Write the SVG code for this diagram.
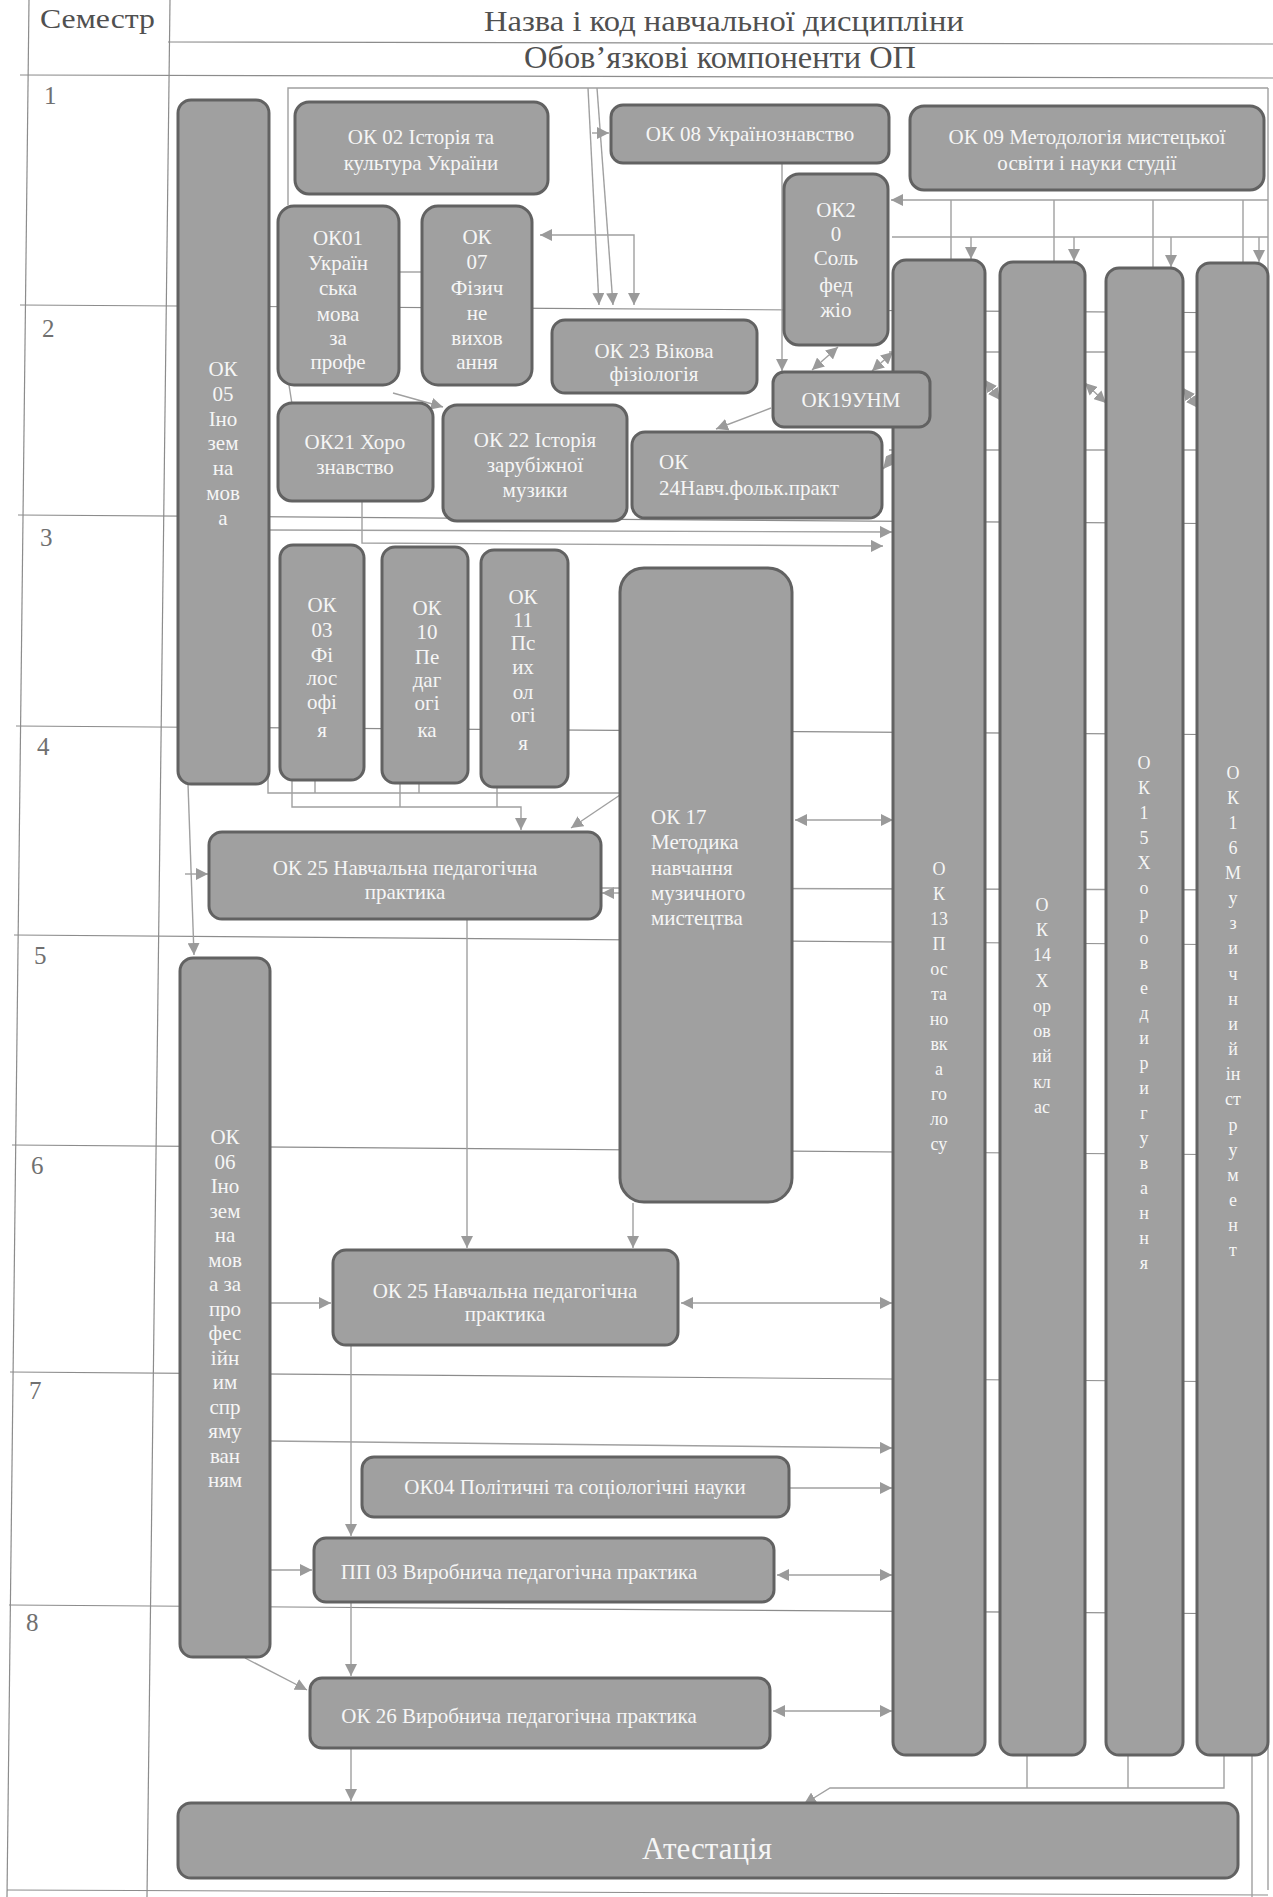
<svg xmlns="http://www.w3.org/2000/svg" width="1273" height="1897" viewBox="0 0 1273 1897">
<style>
.grid{stroke:#8c8c8c;stroke-width:1.2;fill:none}
.c{stroke:#a0a0a0;stroke-width:1.4;fill:none}
.n rect{fill:#a0a0a0;stroke:#626262;stroke-width:3}
.t{font-family:"Liberation Serif","DejaVu Serif",serif;font-size:21px;fill:#f6f6f6;text-anchor:middle}
.tl{font-family:"Liberation Serif","DejaVu Serif",serif;font-size:21px;fill:#f6f6f6}
.tb{font-family:"Liberation Serif","DejaVu Serif",serif;font-size:18px;fill:#f6f6f6;text-anchor:middle}
.h{font-family:"Liberation Serif","DejaVu Serif",serif;fill:#505050}
.s{font-family:"Liberation Serif","DejaVu Serif",serif;font-size:25px;fill:#707070}
</style>
<defs>
<marker id="ah" viewBox="0 0 10 10" refX="10" refY="5" markerWidth="12" markerHeight="12" markerUnits="userSpaceOnUse" orient="auto-start-reverse"><path d="M0,0 L10,5 L0,10 z" fill="#9a9a9a"/></marker>
</defs>
<rect width="1273" height="1897" fill="#ffffff"/>
<g id="table">
<line class="grid" x1="29" y1="0" x2="7" y2="1897"/>
<line class="grid" x1="170" y1="0" x2="147" y2="1897"/>
<line class="grid" x1="168" y1="42" x2="1273" y2="44"/>
<line class="grid" x1="20" y1="75" x2="1273" y2="78"/>
<line class="grid" x1="20" y1="305" x2="1268" y2="313"/>
<line class="grid" x1="18" y1="515" x2="1268" y2="524"/>
<line class="grid" x1="16" y1="726" x2="1268" y2="735"/>
<line class="grid" x1="14" y1="935" x2="1268" y2="945"/>
<line class="grid" x1="12" y1="1145" x2="1268" y2="1155"/>
<line class="grid" x1="10" y1="1372" x2="1268" y2="1382"/>
<line class="grid" x1="9" y1="1605" x2="1268" y2="1614"/>
<line class="grid" x1="7" y1="1890" x2="1268" y2="1895"/>
<text class="h" x="40" y="28" font-size="27" textLength="115" lengthAdjust="spacingAndGlyphs">Семестр</text>
<text class="h" x="484" y="31" font-size="29" textLength="480" lengthAdjust="spacingAndGlyphs">Назва і код навчальної дисципліни</text>
<text class="h" x="524" y="68" font-size="32" textLength="392" lengthAdjust="spacingAndGlyphs">Обов’язкові компоненти ОП</text>
<text class="s" x="44" y="104">1</text>
<text class="s" x="42" y="337">2</text>
<text class="s" x="40" y="546">3</text>
<text class="s" x="37" y="755">4</text>
<text class="s" x="34" y="964">5</text>
<text class="s" x="31" y="1174">6</text>
<text class="s" x="29" y="1399">7</text>
<text class="s" x="26" y="1631">8</text>
</g>
<g id="connectors">
<polyline class="c" points="288,205 288,88 1268,88"/>
<line class="c" x1="1268" y1="88" x2="1268" y2="1890"/>
<line class="c" x1="588" y1="88" x2="599" y2="305" marker-end="url(#ah)"/>
<line class="c" x1="597" y1="88" x2="613" y2="305" marker-end="url(#ah)"/>
<polyline class="c" points="540,235 634,235 634,305" marker-start="url(#ah)" marker-end="url(#ah)"/>
<line class="c" x1="592" y1="133" x2="609" y2="133" marker-end="url(#ah)"/>
<line class="c" x1="1268" y1="200" x2="891" y2="200" marker-end="url(#ah)"/>
<line class="c" x1="892" y1="237" x2="1268" y2="237"/>
<line class="c" x1="971" y1="237" x2="971" y2="259" marker-end="url(#ah)"/>
<line class="c" x1="1074" y1="237" x2="1074" y2="261" marker-end="url(#ah)"/>
<line class="c" x1="1171" y1="237" x2="1171" y2="267" marker-end="url(#ah)"/>
<line class="c" x1="1259" y1="237" x2="1259" y2="262" marker-end="url(#ah)"/>
<line class="c" x1="951" y1="200" x2="951" y2="262"/>
<line class="c" x1="1054" y1="200" x2="1054" y2="262"/>
<line class="c" x1="1153" y1="200" x2="1153" y2="268"/>
<line class="c" x1="1243" y1="200" x2="1243" y2="263"/>
<line class="c" x1="782" y1="163" x2="782" y2="371" marker-end="url(#ah)"/>
<line class="c" x1="812" y1="370" x2="838" y2="347" marker-start="url(#ah)" marker-end="url(#ah)"/>
<line class="c" x1="872" y1="371" x2="893" y2="352" marker-start="url(#ah)" marker-end="url(#ah)"/>
<line class="c" x1="771" y1="408" x2="716" y2="429" marker-end="url(#ah)"/>
<line class="c" x1="883" y1="469" x2="898" y2="451" marker-start="url(#ah)" marker-end="url(#ah)"/>
<line class="c" x1="985" y1="380" x2="1000" y2="400" marker-start="url(#ah)" marker-end="url(#ah)"/>
<line class="c" x1="1085" y1="383" x2="1106" y2="403" marker-start="url(#ah)" marker-end="url(#ah)"/>
<line class="c" x1="1183" y1="388" x2="1198" y2="408" marker-start="url(#ah)" marker-end="url(#ah)"/>
<line class="c" x1="889" y1="352" x2="1268" y2="352"/>
<line class="c" x1="889" y1="450" x2="1268" y2="450"/>
<line class="c" x1="399" y1="272" x2="423" y2="272"/>
<line class="c" x1="393" y1="393" x2="443" y2="407" marker-end="url(#ah)"/>
<line class="c" x1="289" y1="385" x2="292" y2="404"/>
<line class="c" x1="269" y1="530" x2="892" y2="532" marker-end="url(#ah)"/>
<polyline class="c" points="362,501 362,543 883,546" marker-end="url(#ah)"/>
<polyline class="c" points="268,530 268,793 620,793"/>
<polyline class="c" points="292,780 292,807 521,807 521,830" marker-end="url(#ah)"/>
<line class="c" x1="315" y1="780" x2="315" y2="793"/>
<line class="c" x1="400" y1="783" x2="400" y2="807"/>
<line class="c" x1="419" y1="783" x2="419" y2="793"/>
<line class="c" x1="497" y1="787" x2="497" y2="807"/>
<line class="c" x1="620" y1="795" x2="571" y2="828" marker-end="url(#ah)"/>
<line class="c" x1="620" y1="893" x2="602" y2="893" marker-end="url(#ah)"/>
<line class="c" x1="188" y1="784" x2="194" y2="955" marker-end="url(#ah)"/>
<line class="c" x1="185" y1="874" x2="208" y2="874" marker-end="url(#ah)"/>
<line class="c" x1="795" y1="820" x2="893" y2="820" marker-start="url(#ah)" marker-end="url(#ah)"/>
<line class="c" x1="601" y1="888" x2="1268" y2="890"/>
<line class="c" x1="467" y1="919" x2="467" y2="1248" marker-end="url(#ah)"/>
<line class="c" x1="633" y1="1203" x2="633" y2="1248" marker-end="url(#ah)"/>
<line class="c" x1="270" y1="1303" x2="331" y2="1303" marker-end="url(#ah)"/>
<line class="c" x1="681" y1="1303" x2="892" y2="1303" marker-start="url(#ah)" marker-end="url(#ah)"/>
<line class="c" x1="351" y1="1345" x2="351" y2="1536" marker-end="url(#ah)"/>
<line class="c" x1="351" y1="1602" x2="351" y2="1676" marker-end="url(#ah)"/>
<line class="c" x1="351" y1="1748" x2="351" y2="1801" marker-end="url(#ah)"/>
<line class="c" x1="245" y1="1658" x2="307" y2="1690" marker-end="url(#ah)"/>
<line class="c" x1="270" y1="1570" x2="312" y2="1570" marker-end="url(#ah)"/>
<line class="c" x1="270" y1="1441" x2="892" y2="1448" marker-end="url(#ah)"/>
<line class="c" x1="789" y1="1488" x2="892" y2="1488" marker-end="url(#ah)"/>
<line class="c" x1="777" y1="1575" x2="892" y2="1575" marker-start="url(#ah)" marker-end="url(#ah)"/>
<line class="c" x1="773" y1="1711" x2="892" y2="1711" marker-start="url(#ah)" marker-end="url(#ah)"/>
<line class="c" x1="1027" y1="1755" x2="1027" y2="1788"/>
<line class="c" x1="1128" y1="1755" x2="1128" y2="1788"/>
<polyline class="c" points="1224,1755 1224,1788 830,1788 804,1804" marker-end="url(#ah)"/>
<line class="c" x1="1252" y1="1755" x2="1252" y2="1897"/>
</g>
<g id="ok05" class="n"><rect x="178" y="100" width="91" height="684" rx="13"/>
<text class="t"><tspan x="223" y="376">ОК</tspan><tspan x="223" y="401">05</tspan><tspan x="223" y="426">Іно</tspan><tspan x="223" y="450">зем</tspan><tspan x="223" y="475">на</tspan><tspan x="223" y="500">мов</tspan><tspan x="223" y="525">а</tspan></text></g>
<g id="ok02" class="n"><rect x="295" y="102" width="253" height="92" rx="14"/>
<text class="t"><tspan x="421" y="144">ОК 02 Історія та</tspan><tspan x="421" y="170">культура України</tspan></text></g>
<g id="ok08" class="n"><rect x="611" y="105" width="278" height="58" rx="12"/>
<text class="t" x="750" y="141">ОК 08 Українознавство</text></g>
<g id="ok09" class="n"><rect x="910" y="106" width="354" height="84" rx="14"/>
<text class="t"><tspan x="1087" y="144">ОК 09 Методологія мистецької</tspan><tspan x="1087" y="170">освіти і науки студії</tspan></text></g>
<g id="ok01" class="n"><rect x="278" y="206" width="121" height="179" rx="16"/>
<text class="t"><tspan x="338" y="245">ОК01</tspan><tspan x="338" y="270">Україн</tspan><tspan x="338" y="295">ська</tspan><tspan x="338" y="321">мова</tspan><tspan x="338" y="345">за</tspan><tspan x="338" y="369">профе</tspan></text></g>
<g id="ok07" class="n"><rect x="422" y="206" width="110" height="179" rx="16"/>
<text class="t"><tspan x="477" y="244">ОК</tspan><tspan x="477" y="269">07</tspan><tspan x="477" y="295">Фізич</tspan><tspan x="477" y="320">не</tspan><tspan x="477" y="345">вихов</tspan><tspan x="477" y="369">ання</tspan></text></g>
<g id="ok23" class="n"><rect x="552" y="320" width="205" height="73" rx="13"/>
<text class="t"><tspan x="654" y="358">ОК 23 Вікова</tspan><tspan x="654" y="381">фізіологія</tspan></text></g>
<g id="ok20" class="n"><rect x="784" y="174" width="104" height="171" rx="15"/>
<text class="t"><tspan x="836" y="217">ОК2</tspan><tspan x="836" y="241">0</tspan><tspan x="836" y="265">Соль</tspan><tspan x="836" y="292">фед</tspan><tspan x="836" y="317">жіо</tspan></text></g>
<g id="ok21" class="n"><rect x="278" y="403" width="155" height="98" rx="14"/>
<text class="t"><tspan x="355" y="449">ОК21 Хоро</tspan><tspan x="355" y="474">знавство</tspan></text></g>
<g id="ok22" class="n"><rect x="443" y="405" width="184" height="116" rx="14"/>
<text class="t"><tspan x="535" y="447">ОК 22 Історія</tspan><tspan x="535" y="472">зарубіжної</tspan><tspan x="535" y="497">музики</tspan></text></g>
<g id="ok24" class="n"><rect x="632" y="432" width="250" height="86" rx="13"/>
<text class="tl"><tspan x="659" y="469">ОК</tspan><tspan x="659" y="495">24Навч.фольк.практ</tspan></text></g>
<g id="ok03" class="n"><rect x="280" y="545" width="84" height="235" rx="13"/>
<text class="t"><tspan x="322" y="612">ОК</tspan><tspan x="322" y="637">03</tspan><tspan x="322" y="662">Фі</tspan><tspan x="322" y="685">лос</tspan><tspan x="322" y="709">офі</tspan><tspan x="322" y="737">я</tspan></text></g>
<g id="ok10" class="n"><rect x="382" y="547" width="86" height="236" rx="13"/>
<text class="t"><tspan x="427" y="615">ОК</tspan><tspan x="427" y="639">10</tspan><tspan x="427" y="664">Пе</tspan><tspan x="427" y="687">даг</tspan><tspan x="427" y="710">огі</tspan><tspan x="427" y="737">ка</tspan></text></g>
<g id="ok11" class="n"><rect x="481" y="550" width="87" height="237" rx="13"/>
<text class="t"><tspan x="523" y="604">ОК</tspan><tspan x="523" y="627">11</tspan><tspan x="523" y="650">Пс</tspan><tspan x="523" y="674">их</tspan><tspan x="523" y="699">ол</tspan><tspan x="523" y="722">огі</tspan><tspan x="523" y="750">я</tspan></text></g>
<g id="ok17" class="n"><rect x="620" y="568" width="172" height="634" rx="24"/>
<text class="tl"><tspan x="651" y="824">ОК 17</tspan><tspan x="651" y="849">Методика</tspan><tspan x="651" y="875">навчання</tspan><tspan x="651" y="900">музичного</tspan><tspan x="651" y="925">мистецтва</tspan></text></g>
<g id="ok25a" class="n"><rect x="209" y="832" width="392" height="87" rx="13"/>
<text class="t"><tspan x="405" y="875">ОК 25 Навчальна педагогічна</tspan><tspan x="405" y="899">практика</tspan></text></g>
<g id="ok06" class="n"><rect x="180" y="958" width="90" height="699" rx="13"/>
<text class="t"><tspan x="225" y="1144">ОК</tspan><tspan x="225" y="1169">06</tspan><tspan x="225" y="1193">Іно</tspan><tspan x="225" y="1218">зем</tspan><tspan x="225" y="1242">на</tspan><tspan x="225" y="1267">мов</tspan><tspan x="225" y="1291">а за</tspan><tspan x="225" y="1316">про</tspan><tspan x="225" y="1340">фес</tspan><tspan x="225" y="1365">ійн</tspan><tspan x="225" y="1389">им</tspan><tspan x="225" y="1414">спр</tspan><tspan x="225" y="1438">яму</tspan><tspan x="225" y="1463">ван</tspan><tspan x="225" y="1487">ням</tspan></text></g>
<g id="ok25b" class="n"><rect x="333" y="1250" width="345" height="95" rx="13"/>
<text class="t"><tspan x="505" y="1298">ОК 25 Навчальна педагогічна</tspan><tspan x="505" y="1321">практика</tspan></text></g>
<g id="ok04" class="n"><rect x="362" y="1457" width="427" height="60" rx="12"/>
<text class="t" x="575" y="1494">ОК04 Політичні та соціологічні науки</text></g>
<g id="pp03" class="n"><rect x="314" y="1538" width="460" height="64" rx="12"/>
<text class="t" x="519" y="1579">ПП 03 Виробнича педагогічна практика</text></g>
<g id="ok26" class="n"><rect x="310" y="1678" width="460" height="70" rx="12"/>
<text class="t" x="519" y="1723">ОК 26 Виробнича педагогічна практика</text></g>
<g id="ok13" class="n"><rect x="893" y="260" width="92" height="1495" rx="13"/>
<text class="tb"><tspan x="939" y="875">О</tspan><tspan x="939" y="900">К</tspan><tspan x="939" y="925">13</tspan><tspan x="939" y="950">П</tspan><tspan x="939" y="975">ос</tspan><tspan x="939" y="1000">та</tspan><tspan x="939" y="1025">но</tspan><tspan x="939" y="1050">вк</tspan><tspan x="939" y="1075">а</tspan><tspan x="939" y="1100">го</tspan><tspan x="939" y="1125">ло</tspan><tspan x="939" y="1150">су</tspan></text></g>
<g id="ok14" class="n"><rect x="1000" y="262" width="85" height="1493" rx="13"/>
<text class="tb"><tspan x="1042" y="911">О</tspan><tspan x="1042" y="936">К</tspan><tspan x="1042" y="961">14</tspan><tspan x="1042" y="987">Х</tspan><tspan x="1042" y="1012">ор</tspan><tspan x="1042" y="1037">ов</tspan><tspan x="1042" y="1062">ий</tspan><tspan x="1042" y="1088">кл</tspan><tspan x="1042" y="1113">ас</tspan></text></g>
<g id="ok15" class="n"><rect x="1106" y="268" width="77" height="1487" rx="13"/>
<text class="tb"><tspan x="1144" y="769">О</tspan><tspan x="1144" y="794">К</tspan><tspan x="1144" y="819">1</tspan><tspan x="1144" y="844">5</tspan><tspan x="1144" y="869">Х</tspan><tspan x="1144" y="894">о</tspan><tspan x="1144" y="919">р</tspan><tspan x="1144" y="944">о</tspan><tspan x="1144" y="969">в</tspan><tspan x="1144" y="994">е</tspan><tspan x="1144" y="1019">д</tspan><tspan x="1144" y="1044">и</tspan><tspan x="1144" y="1069">р</tspan><tspan x="1144" y="1094">и</tspan><tspan x="1144" y="1119">г</tspan><tspan x="1144" y="1144">у</tspan><tspan x="1144" y="1169">в</tspan><tspan x="1144" y="1194">а</tspan><tspan x="1144" y="1219">н</tspan><tspan x="1144" y="1244">н</tspan><tspan x="1144" y="1269">я</tspan></text></g>
<g id="ok16" class="n"><rect x="1197" y="263" width="71" height="1492" rx="13"/>
<text class="tb"><tspan x="1233" y="779">О</tspan><tspan x="1233" y="804">К</tspan><tspan x="1233" y="829">1</tspan><tspan x="1233" y="854">6</tspan><tspan x="1233" y="879">М</tspan><tspan x="1233" y="904">у</tspan><tspan x="1233" y="929">з</tspan><tspan x="1233" y="954">и</tspan><tspan x="1233" y="980">ч</tspan><tspan x="1233" y="1005">н</tspan><tspan x="1233" y="1030">и</tspan><tspan x="1233" y="1055">й</tspan><tspan x="1233" y="1080">ін</tspan><tspan x="1233" y="1105">ст</tspan><tspan x="1233" y="1131">р</tspan><tspan x="1233" y="1156">у</tspan><tspan x="1233" y="1181">м</tspan><tspan x="1233" y="1206">е</tspan><tspan x="1233" y="1231">н</tspan><tspan x="1233" y="1256">т</tspan></text></g>
<g id="ok19" class="n"><rect x="773" y="372" width="157" height="55" rx="11"/>
<text class="t" x="851" y="407">ОК19УНМ</text></g>
<g id="attestation" class="n"><rect x="178" y="1803" width="1060" height="75" rx="13"/>
<text class="t" x="707" y="1859" style="font-size:31px">Атестація</text></g>
</svg>
